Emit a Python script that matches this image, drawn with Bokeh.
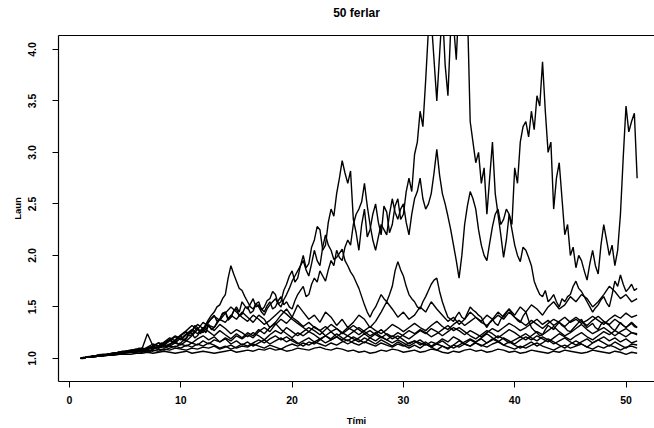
from bokeh.plotting import figure
from bokeh.models import FixedTicker, Range1d, CustomJSTickFormatter, LinearAxis
from bokeh.embed import file_html
from bokeh.resources import INLINE

TITLE = "50 ferlar"
X_LABEL = "Tími"
Y_LABEL = "Laun"
X_TICKS = [0, 10, 20, 30, 40, 50]
Y_TICKS = [1.0, 1.5, 2.0, 2.5, 3.0, 3.5, 4.0]

# coarse time grid (half steps) for the lower paths
TIME = [1.0, 1.5, 2.0, 2.5, 3.0, 3.5, 4.0, 4.5, 5.0, 5.5,
        6.0, 6.5, 7.0, 7.5, 8.0, 8.5, 9.0, 9.5, 10.0, 10.5,
        11.0, 11.5, 12.0, 12.5, 13.0, 13.5, 14.0, 14.5, 15.0, 15.5,
        16.0, 16.5, 17.0, 17.5, 18.0, 18.5, 19.0, 19.5, 20.0, 20.5,
        21.0, 21.5, 22.0, 22.5, 23.0, 23.5, 24.0, 24.5, 25.0, 25.5,
        26.0, 26.5, 27.0, 27.5, 28.0, 28.5, 29.0, 29.5, 30.0, 30.5,
        31.0, 31.5, 32.0, 32.5, 33.0, 33.5, 34.0, 34.5, 35.0, 35.5,
        36.0, 36.5, 37.0, 37.5, 38.0, 38.5, 39.0, 39.5, 40.0, 40.5,
        41.0, 41.5, 42.0, 42.5, 43.0, 43.5, 44.0, 44.5, 45.0, 45.5,
        46.0, 46.5, 47.0, 47.5, 48.0, 48.5, 49.0, 49.5, 50.0, 50.5,
        51.0]

# fine time grid (quarter steps) for the three high paths
TIME_FINE = [1.0, 1.25, 1.5, 1.75, 2.0, 2.25, 2.5, 2.75, 3.0, 3.25,
             3.5, 3.75, 4.0, 4.25, 4.5, 4.75, 5.0, 5.25, 5.5, 5.75,
             6.0, 6.25, 6.5, 6.75, 7.0, 7.25, 7.5, 7.75, 8.0, 8.25,
             8.5, 8.75, 9.0, 9.25, 9.5, 9.75, 10.0, 10.25, 10.5, 10.75,
             11.0, 11.25, 11.5, 11.75, 12.0, 12.25, 12.5, 12.75, 13.0, 13.25,
             13.5, 13.75, 14.0, 14.25, 14.5, 14.75, 15.0, 15.25, 15.5, 15.75,
             16.0, 16.25, 16.5, 16.75, 17.0, 17.25, 17.5, 17.75, 18.0, 18.25,
             18.5, 18.75, 19.0, 19.25, 19.5, 19.75, 20.0, 20.25, 20.5, 20.75,
             21.0, 21.25, 21.5, 21.75, 22.0, 22.25, 22.5, 22.75, 23.0, 23.25,
             23.5, 23.75, 24.0, 24.25, 24.5, 24.75, 25.0, 25.25, 25.5, 25.75,
             26.0, 26.25, 26.5, 26.75, 27.0, 27.25, 27.5, 27.75, 28.0, 28.25,
             28.5, 28.75, 29.0, 29.25, 29.5, 29.75, 30.0, 30.25, 30.5, 30.75,
             31.0, 31.25, 31.5, 31.75, 32.0, 32.25, 32.5, 32.75, 33.0, 33.25,
             33.5, 33.75, 34.0, 34.25, 34.5, 34.75, 35.0, 35.25, 35.5, 35.75,
             36.0, 36.25, 36.5, 36.75, 37.0, 37.25, 37.5, 37.75, 38.0, 38.25,
             38.5, 38.75, 39.0, 39.25, 39.5, 39.75, 40.0, 40.25, 40.5, 40.75,
             41.0, 41.25, 41.5, 41.75, 42.0, 42.25, 42.5, 42.75, 43.0, 43.25,
             43.5, 43.75, 44.0, 44.25, 44.5, 44.75, 45.0, 45.25, 45.5, 45.75,
             46.0, 46.25, 46.5, 46.75, 47.0, 47.25, 47.5, 47.75, 48.0, 48.25,
             48.5, 48.75, 49.0, 49.25, 49.5, 49.75, 50.0, 50.25, 50.5, 50.75,
             51.0]

P1 = [1.00, 1.00, 1.01, 1.02, 1.02, 1.02, 1.03, 1.04, 1.03, 1.03,
      1.04, 1.05, 1.05, 1.05, 1.06, 1.07, 1.06, 1.06, 1.07, 1.08,
      1.08, 1.10, 1.09, 1.08, 1.10, 1.11, 1.09, 1.11, 1.12, 1.15,
      1.14, 1.11, 1.13, 1.16, 1.18, 1.21, 1.22, 1.17, 1.19, 1.24,
      1.26, 1.32, 1.30, 1.24, 1.27, 1.31, 1.35, 1.39, 1.42, 1.36,
      1.38, 1.44, 1.45, 1.37, 1.40, 1.46, 1.48, 1.41, 1.43, 1.49,
      1.50, 1.44, 1.46, 1.53, 1.55, 1.47, 1.50, 1.56, 1.58, 1.65,
      1.62, 1.53, 1.55, 1.66, 1.72, 1.80, 1.85, 1.74, 1.78, 1.90,
      2.00, 1.88, 1.92, 2.08, 2.15, 2.28, 2.25, 2.05, 2.10, 2.32,
      2.45, 2.38, 2.60, 2.75, 2.92, 2.80, 2.70, 2.82, 2.35, 2.22,
      2.05, 2.30, 2.45, 2.18, 2.25, 2.40, 2.50, 2.32, 2.20, 2.48,
      2.42, 2.22, 2.30, 2.48, 2.55, 2.35, 2.40, 2.62, 2.75, 2.62,
      2.98, 3.10, 3.40, 3.25, 3.70, 4.20, 4.30, 3.90, 3.50, 3.95,
      4.40, 3.85, 3.55, 4.20, 4.25, 3.90, 4.50, 4.20, 4.30, 4.40,
      3.30, 3.10, 2.90, 3.00, 2.70, 2.85, 2.40, 2.75, 3.10, 2.60,
      2.40, 2.20, 1.98, 2.15, 2.40, 2.30, 2.85, 2.70, 3.10, 3.25,
      3.30, 3.15, 3.40, 3.22, 3.55, 3.45, 3.88, 3.40, 3.00, 3.10,
      2.45, 2.75, 2.90, 2.55, 2.20, 2.30, 2.00, 2.08, 1.88, 2.00,
      1.95, 1.85, 1.76, 1.92, 2.05, 1.90, 1.82, 2.10, 2.30, 2.15,
      2.00, 2.10, 1.90, 2.05, 2.40, 2.95, 3.45, 3.20, 3.30, 3.38,
      2.75]

P2 = [1.00, 1.01, 1.01, 1.01, 1.02, 1.02, 1.02, 1.03, 1.03, 1.03,
      1.04, 1.04, 1.04, 1.05, 1.05, 1.05, 1.06, 1.06, 1.07, 1.07,
      1.07, 1.08, 1.08, 1.09, 1.10, 1.11, 1.12, 1.10, 1.11, 1.13,
      1.15, 1.17, 1.18, 1.15, 1.16, 1.20, 1.22, 1.24, 1.26, 1.22,
      1.23, 1.27, 1.30, 1.26, 1.28, 1.33, 1.38, 1.42, 1.45, 1.50,
      1.52, 1.58, 1.62, 1.78, 1.90, 1.82, 1.75, 1.68, 1.66, 1.60,
      1.55, 1.50, 1.48, 1.53, 1.50, 1.45, 1.42, 1.48, 1.52, 1.55,
      1.58, 1.53, 1.50, 1.57, 1.62, 1.68, 1.75, 1.80, 1.85, 1.90,
      1.95, 1.86, 1.80, 1.92, 2.05, 1.95, 1.90, 2.08, 2.20, 2.10,
      2.05, 1.96, 1.98, 2.02, 2.06, 1.95, 1.90, 1.84, 1.80, 1.74,
      1.68, 1.60, 1.52, 1.45, 1.40, 1.46, 1.50, 1.56, 1.62, 1.58,
      1.55, 1.62, 1.70, 1.85, 1.94, 1.86, 1.80, 1.70, 1.62, 1.58,
      1.55, 1.50, 1.48, 1.55, 1.60, 1.66, 1.72, 1.76, 1.78, 1.65,
      1.55, 1.47, 1.40, 1.38, 1.36, 1.41, 1.45, 1.40, 1.38, 1.44,
      1.50, 1.47, 1.45, 1.42, 1.40, 1.34, 1.30, 1.35, 1.38, 1.34,
      1.32, 1.38, 1.42, 1.45, 1.48, 1.43, 1.40, 1.37, 1.35, 1.41,
      1.45, 1.37, 1.30, 1.27, 1.25, 1.22, 1.23, 1.28, 1.32, 1.30,
      1.28, 1.32, 1.35, 1.32, 1.30, 1.27, 1.26, 1.29, 1.32, 1.35,
      1.38, 1.33, 1.30, 1.32, 1.34, 1.30, 1.28, 1.33, 1.36, 1.34,
      1.32, 1.29, 1.27, 1.31, 1.35, 1.32, 1.30, 1.32, 1.34, 1.31,
      1.30]

P3 = [1.00, 1.01, 1.01, 1.01, 1.01, 1.02, 1.02, 1.02, 1.03, 1.03,
      1.03, 1.04, 1.04, 1.05, 1.05, 1.05, 1.06, 1.06, 1.06, 1.07,
      1.07, 1.08, 1.08, 1.09, 1.09, 1.11, 1.10, 1.10, 1.12, 1.13,
      1.11, 1.13, 1.14, 1.15, 1.17, 1.14, 1.15, 1.18, 1.20, 1.25,
      1.24, 1.20, 1.22, 1.26, 1.28, 1.25, 1.33, 1.28, 1.30, 1.35,
      1.38, 1.43, 1.45, 1.39, 1.40, 1.46, 1.50, 1.45, 1.55, 1.51,
      1.48, 1.53, 1.58, 1.50, 1.52, 1.48, 1.45, 1.51, 1.55, 1.48,
      1.50, 1.56, 1.60, 1.52, 1.55, 1.50, 1.48, 1.56, 1.62, 1.66,
      1.70, 1.60, 1.62, 1.72, 1.78, 1.74, 1.85, 1.80, 1.75, 1.86,
      1.95, 1.90, 2.05, 1.98, 1.95, 2.08, 2.15, 2.10, 2.30, 2.40,
      2.45, 2.52, 2.70, 2.48, 2.30, 2.15, 2.05, 2.18, 2.30, 2.25,
      2.20, 2.40, 2.55, 2.42, 2.35, 2.45, 2.50, 2.32, 2.20, 2.40,
      2.55, 2.62, 2.75, 2.55, 2.45, 2.50, 2.60, 2.80, 3.03, 2.78,
      2.60, 2.50, 2.38, 2.25, 2.10, 1.95, 1.78, 2.00, 2.30, 2.48,
      2.62, 2.55, 2.45, 2.25, 2.10, 2.00, 1.95, 2.12, 2.28, 2.40,
      2.45, 2.30, 2.35, 2.45, 2.40, 2.25, 2.10, 2.00, 1.94, 2.08,
      2.05, 1.98, 1.90, 1.75, 1.68, 1.62, 1.60, 1.66, 1.55, 1.58,
      1.62, 1.55, 1.50, 1.58, 1.55, 1.60, 1.62, 1.70, 1.75, 1.68,
      1.65, 1.60, 1.55, 1.50, 1.45, 1.49, 1.52, 1.57, 1.60, 1.54,
      1.50, 1.62, 1.75, 1.70, 1.81, 1.72, 1.65, 1.68, 1.72, 1.66,
      1.68]

P4 = [1.00, 1.01, 1.01, 1.02, 1.03, 1.04, 1.05, 1.05, 1.06, 1.07,
      1.08, 1.09, 1.24, 1.12, 1.10, 1.14, 1.18, 1.15, 1.20, 1.17,
      1.22, 1.28, 1.25, 1.32, 1.30, 1.38, 1.35, 1.42, 1.38, 1.45,
      1.40, 1.35, 1.42, 1.38, 1.30, 1.35, 1.42, 1.48, 1.40, 1.52,
      1.45, 1.38, 1.42, 1.35, 1.45, 1.40, 1.32, 1.38, 1.30, 1.35,
      1.42, 1.38, 1.30, 1.36, 1.45, 1.55, 1.48, 1.40, 1.45, 1.38,
      1.42, 1.50, 1.45, 1.55, 1.48, 1.42, 1.36, 1.40, 1.33, 1.38,
      1.45, 1.40, 1.36, 1.42, 1.38, 1.45, 1.40, 1.48, 1.42, 1.50,
      1.45, 1.52, 1.48, 1.42, 1.50, 1.55, 1.48, 1.52, 1.60, 1.55,
      1.62, 1.58, 1.50, 1.55, 1.62, 1.70, 1.65, 1.58, 1.62, 1.55,
      1.58]

L1 = [1.00, 1.01, 1.01, 1.02, 1.02, 1.03, 1.03, 1.04, 1.04, 1.04,
      1.05, 1.05, 1.06, 1.05, 1.06, 1.07, 1.06, 1.05, 1.06, 1.07,
      1.05, 1.06, 1.07, 1.06, 1.05, 1.06, 1.07, 1.08, 1.06, 1.07,
      1.08, 1.07, 1.09, 1.08, 1.10, 1.08, 1.09, 1.07, 1.08, 1.10,
      1.09, 1.08, 1.10, 1.11, 1.09, 1.08, 1.10, 1.09, 1.07, 1.08,
      1.06, 1.07, 1.05, 1.06, 1.08, 1.07, 1.09, 1.08, 1.06, 1.07,
      1.08, 1.06, 1.07, 1.09, 1.08, 1.06, 1.05, 1.07, 1.06, 1.08,
      1.09, 1.07, 1.08, 1.06, 1.07, 1.09, 1.08, 1.06, 1.07, 1.05,
      1.06, 1.08, 1.07, 1.06, 1.05, 1.07, 1.06, 1.08, 1.07, 1.06,
      1.05, 1.06, 1.08, 1.07, 1.06, 1.05, 1.07, 1.06, 1.04, 1.06,
      1.05]

L2 = [1.00, 1.01, 1.02, 1.02, 1.03, 1.03, 1.04, 1.05, 1.05, 1.06,
      1.06, 1.07, 1.06, 1.08, 1.07, 1.09, 1.08, 1.10, 1.09, 1.08,
      1.10, 1.09, 1.11, 1.10, 1.12, 1.09, 1.11, 1.13, 1.10, 1.12,
      1.11, 1.14, 1.12, 1.10, 1.13, 1.11, 1.09, 1.12, 1.14, 1.12,
      1.15, 1.13, 1.16, 1.14, 1.12, 1.15, 1.13, 1.16, 1.18, 1.15,
      1.13, 1.16, 1.14, 1.12, 1.15, 1.13, 1.11, 1.14, 1.12, 1.15,
      1.17, 1.15, 1.13, 1.16, 1.14, 1.12, 1.10, 1.13, 1.11, 1.14,
      1.12, 1.15, 1.13, 1.11, 1.14, 1.16, 1.13, 1.11, 1.09, 1.12,
      1.10, 1.13, 1.15, 1.12, 1.10, 1.08, 1.11, 1.13, 1.10, 1.12,
      1.14, 1.11, 1.09, 1.12, 1.10, 1.13, 1.11, 1.08, 1.11, 1.12,
      1.10]

L3 = [1.00, 1.01, 1.02, 1.03, 1.03, 1.04, 1.05, 1.06, 1.06, 1.07,
      1.08, 1.07, 1.09, 1.11, 1.10, 1.13, 1.12, 1.15, 1.13, 1.17,
      1.15, 1.19, 1.22, 1.18, 1.21, 1.16, 1.19, 1.14, 1.17, 1.13,
      1.16, 1.12, 1.15, 1.18, 1.14, 1.17, 1.20, 1.16, 1.19, 1.15,
      1.12, 1.16, 1.14, 1.18, 1.22, 1.19, 1.24, 1.20, 1.17, 1.21,
      1.18, 1.15, 1.20, 1.24, 1.28, 1.23, 1.19, 1.22, 1.18, 1.14,
      1.17, 1.13, 1.16, 1.12, 1.15, 1.19, 1.16, 1.21, 1.18, 1.14,
      1.12, 1.16, 1.19, 1.15, 1.18, 1.22, 1.19, 1.15, 1.18, 1.21,
      1.24, 1.20, 1.17, 1.21, 1.18, 1.14, 1.17, 1.20, 1.16, 1.13,
      1.16, 1.19, 1.15, 1.18, 1.21, 1.17, 1.20, 1.16, 1.19, 1.15,
      1.17]

L4 = [1.00, 1.01, 1.02, 1.03, 1.04, 1.04, 1.05, 1.06, 1.07, 1.08,
      1.09, 1.10, 1.08, 1.12, 1.15, 1.13, 1.18, 1.22, 1.19, 1.24,
      1.28, 1.24, 1.30, 1.26, 1.22, 1.27, 1.23, 1.19, 1.24, 1.20,
      1.25, 1.22, 1.28, 1.24, 1.30, 1.34, 1.28, 1.24, 1.20, 1.25,
      1.22, 1.26, 1.23, 1.19, 1.22, 1.18, 1.21, 1.25, 1.22, 1.26,
      1.30, 1.26, 1.22, 1.25, 1.21, 1.18, 1.22, 1.19, 1.23, 1.27,
      1.24, 1.28, 1.25, 1.21, 1.24, 1.28, 1.32, 1.27, 1.30, 1.26,
      1.22, 1.19, 1.23, 1.27, 1.24, 1.20, 1.24, 1.28, 1.25, 1.21,
      1.18, 1.22, 1.26, 1.23, 1.27, 1.31, 1.26, 1.22, 1.25, 1.29,
      1.33, 1.28, 1.24, 1.27, 1.30, 1.26, 1.22, 1.26, 1.29, 1.25,
      1.23]

L5 = [1.00, 1.01, 1.02, 1.03, 1.03, 1.04, 1.05, 1.06, 1.07, 1.08,
      1.09, 1.08, 1.11, 1.14, 1.12, 1.16, 1.20, 1.17, 1.23, 1.27,
      1.32, 1.28, 1.35, 1.31, 1.27, 1.33, 1.29, 1.24, 1.28, 1.25,
      1.21, 1.25, 1.22, 1.18, 1.23, 1.27, 1.24, 1.30, 1.26, 1.22,
      1.26, 1.30, 1.27, 1.23, 1.28, 1.33, 1.29, 1.25, 1.30, 1.27,
      1.23, 1.27, 1.31, 1.27, 1.24, 1.28, 1.33, 1.30, 1.26, 1.30,
      1.34, 1.30, 1.27, 1.32, 1.36, 1.31, 1.28, 1.33, 1.37, 1.32,
      1.36, 1.40, 1.35, 1.32, 1.37, 1.42, 1.38, 1.45, 1.40, 1.36,
      1.32, 1.37, 1.33, 1.29, 1.34, 1.38, 1.35, 1.31, 1.36, 1.40,
      1.36, 1.32, 1.37, 1.41, 1.36, 1.33, 1.38, 1.34, 1.30, 1.35,
      1.30]

L6 = [1.00, 1.01, 1.02, 1.02, 1.03, 1.04, 1.04, 1.05, 1.06, 1.06,
      1.07, 1.08, 1.07, 1.09, 1.11, 1.10, 1.12, 1.11, 1.14, 1.12,
      1.15, 1.13, 1.17, 1.14, 1.18, 1.16, 1.20, 1.17, 1.22, 1.19,
      1.23, 1.20, 1.26, 1.30, 1.26, 1.33, 1.38, 1.34, 1.40, 1.36,
      1.31, 1.35, 1.30, 1.27, 1.31, 1.26, 1.29, 1.24, 1.28, 1.32,
      1.28, 1.24, 1.27, 1.23, 1.20, 1.24, 1.21, 1.25, 1.22, 1.19,
      1.23, 1.27, 1.24, 1.29, 1.26, 1.22, 1.26, 1.30, 1.27, 1.23,
      1.27, 1.24, 1.21, 1.25, 1.29, 1.26, 1.30, 1.34, 1.31, 1.27,
      1.30, 1.34, 1.38, 1.33, 1.37, 1.32, 1.36, 1.40, 1.35, 1.38,
      1.34, 1.37, 1.41, 1.37, 1.33, 1.38, 1.42, 1.39, 1.44, 1.40,
      1.42]

L7 = [1.00, 1.01, 1.01, 1.02, 1.03, 1.04, 1.04, 1.05, 1.06, 1.07,
      1.07, 1.06, 1.08, 1.07, 1.09, 1.08, 1.10, 1.12, 1.10, 1.13,
      1.11, 1.14, 1.12, 1.15, 1.13, 1.10, 1.12, 1.09, 1.11, 1.14,
      1.12, 1.15, 1.18, 1.15, 1.19, 1.22, 1.18, 1.21, 1.17, 1.14,
      1.17, 1.20, 1.16, 1.19, 1.15, 1.18, 1.21, 1.17, 1.14, 1.17,
      1.20, 1.24, 1.20, 1.17, 1.21, 1.18, 1.15, 1.18, 1.15, 1.12,
      1.15, 1.18, 1.14, 1.11, 1.14, 1.17, 1.13, 1.10, 1.13, 1.16,
      1.19, 1.16, 1.20, 1.24, 1.20, 1.17, 1.13, 1.16, 1.13, 1.10,
      1.13, 1.16, 1.12, 1.15, 1.19, 1.16, 1.13, 1.10, 1.14, 1.17,
      1.14, 1.11, 1.15, 1.18, 1.15, 1.12, 1.16, 1.13, 1.10, 1.14,
      1.13]

L8 = [1.00, 1.01, 1.02, 1.03, 1.03, 1.04, 1.05, 1.06, 1.06, 1.07,
      1.08, 1.10, 1.09, 1.12, 1.15, 1.13, 1.17, 1.21, 1.18, 1.23,
      1.27, 1.33, 1.29, 1.36, 1.41, 1.37, 1.44, 1.50, 1.45, 1.40,
      1.36, 1.42, 1.38, 1.33, 1.37, 1.42, 1.47, 1.43, 1.38, 1.34,
      1.30, 1.26, 1.31, 1.27, 1.22, 1.26, 1.21, 1.18, 1.22, 1.19,
      1.16, 1.20, 1.17, 1.14, 1.18, 1.15, 1.12, 1.16, 1.13, 1.10,
      1.13, 1.10, 1.14, 1.11, 1.08, 1.12, 1.09, 1.13, 1.17, 1.14,
      1.18, 1.15, 1.12, 1.15, 1.19, 1.16, 1.20, 1.17, 1.14, 1.18,
      1.21, 1.18, 1.22, 1.19, 1.16, 1.20, 1.24, 1.21, 1.18, 1.22,
      1.25, 1.21, 1.18, 1.22, 1.26, 1.23, 1.27, 1.24, 1.21, 1.25,
      1.24]

LOW_PATHS = [L1, L2, L3, L4, L5, L6, L7, L8, P4]
HIGH_PATHS = [P3, P2, P1]

FONT = "Liberation Sans"
X_START, X_END = -0.99, 52.56
Y_START, Y_END = 0.776, 4.135

p = figure(width=654, height=428, output_backend="svg", toolbar_location=None,
           x_range=Range1d(X_START, X_END), y_range=Range1d(Y_START, Y_END),
           min_border_left=58, min_border_right=0, min_border_top=35,
           min_border_bottom=44)

p.multi_line(xs=[TIME] * len(LOW_PATHS), ys=LOW_PATHS, line_color="black", line_width=1.4)
p.multi_line(xs=[TIME_FINE] * len(HIGH_PATHS), ys=HIGH_PATHS, line_color="black", line_width=1.4)

p.grid.visible = False
p.outline_line_color = None
p.background_fill_color = "white"
p.border_fill_color = "white"

bottom_axis = p.below[0]
left_axis = p.left[0]

# an axis along the top: its line is the top of the plot box, its label is the title
top_axis = LinearAxis(ticker=FixedTicker(ticks=[]), axis_label=TITLE)
top_axis.axis_line_color = "black"
top_axis.axis_line_width = 1.2
top_axis.major_tick_out = 0
top_axis.major_tick_in = 0
top_axis.major_tick_line_color = None
top_axis.minor_tick_line_color = None
top_axis.major_label_standoff = 0
top_axis.axis_label_standoff = 16
top_axis.axis_label_text_font = FONT
top_axis.axis_label_text_font_size = "12px"
top_axis.axis_label_text_font_style = "bold"
top_axis.axis_label_text_color = "black"
p.add_layout(top_axis, "above")

bottom_axis.ticker = FixedTicker(ticks=X_TICKS)
left_axis.ticker = FixedTicker(ticks=Y_TICKS)
left_axis.formatter = CustomJSTickFormatter(code="return tick.toFixed(1);")
left_axis.major_label_orientation = "vertical"
bottom_axis.axis_label = X_LABEL
left_axis.axis_label = Y_LABEL

for ax in (bottom_axis, left_axis):
    ax.axis_line_color = "black"
    ax.axis_line_width = 1.2
    ax.major_tick_line_color = "black"
    ax.major_tick_in = 0
    ax.major_tick_out = 6
    ax.minor_tick_line_color = None
    ax.major_label_text_font = FONT
    ax.major_label_text_font_size = "10.5px"
    ax.major_label_text_font_style = "bold"
    ax.major_label_text_color = "black"
    ax.axis_label_text_font = FONT
    ax.axis_label_text_font_size = "9.5px"
    ax.axis_label_text_font_style = "bold"
    ax.axis_label_text_color = "black"

bottom_axis.major_label_standoff = 8
bottom_axis.axis_label_standoff = 8
left_axis.major_label_standoff = 16
left_axis.axis_label_standoff = 3

open("out.html", "w").write(file_html(p, INLINE))
